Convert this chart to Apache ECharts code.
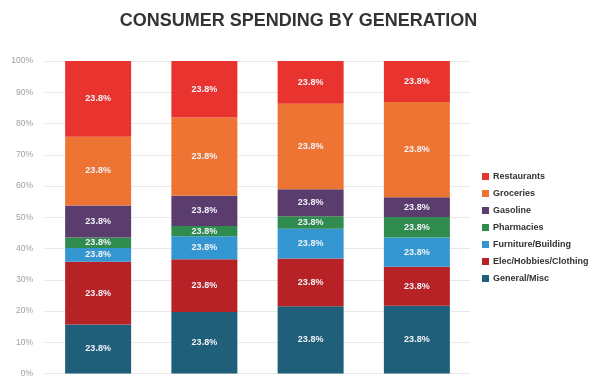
<!DOCTYPE html>
<html>
<head>
<meta charset="utf-8">
<script src="https://cdn.jsdelivr.net/npm/echarts@6/dist/echarts.min.js"></script>
<style>
  html, body { margin: 0; padding: 0; background: #fff; }
  #chart { width: 597px; height: 378px; }
</style>
</head>
<body>
<div id="chart"></div>
<script>
// generations (x labels are cropped off in the reference)
const generations = ['Gen Z', 'Millennials', 'Gen X', 'Boomers']
// stacked bottom -> top
const categories = ['General/Misc', 'Elec/Hobbies/Clothing', 'Furniture/Building', 'Pharmacies', 'Gasoline', 'Groceries', 'Restaurants']
const generalMisc = [15.7, 19.7, 21.5, 21.7]
const elecHobbies = [20.1, 16.9, 15.3, 12.5]
const furniture = [4.4, 7.3, 9.5, 9.3]
const pharmacies = [3.3, 3.3, 4.0, 6.6]
const gasoline = [10.3, 9.7, 8.7, 6.3]
const groceries = [22.0, 25.0, 27.3, 30.5]
const restaurants = [24.2, 18.1, 13.7, 13.1]
const labelText = '23.8%'
const colors = ['#1F5F7A', '#B72227', '#3497D1', '#2F8C4E', '#5A3D6E', '#EE7434', '#E8332F']

const seriesValues = [generalMisc, elecHobbies, furniture, pharmacies, gasoline, groceries, restaurants]

let myChart = echarts.init(document.getElementById('chart'))
myChart.setOption({
    animation: false,
    title: {
        text: 'CONSUMER SPENDING BY GENERATION',
        left: 'center',
        top: 7,
        textStyle: {
            fontFamily: 'Liberation Sans',
            fontSize: 18,
            fontWeight: 'bold',
            color: '#333'
        }
    },
    legend: {
        orient: 'vertical',
        left: 482,
        top: 172,
        padding: 0,
        itemWidth: 7,
        itemHeight: 7,
        itemGap: 8,
        itemStyle: { borderWidth: 0 },
        icon: 'rect',
        data: categories.slice().reverse(),
        textStyle: {
            fontFamily: 'Liberation Sans',
            fontSize: 9,
            fontWeight: 'bold',
            color: '#333',
            padding: [0, 0, 0, -1]
        }
    },
    grid: {
        left: 45,
        right: 127,
        top: 61,
        bottom: 2
    },
    xAxis: {
        type: 'category',
        data: generations,
        axisLine: { show: false },
        axisTick: { show: false },
        axisLabel: { show: false }
    },
    yAxis: {
        type: 'value',
        min: 0,
        max: 100,
        interval: 10,
        axisLine: { show: false },
        axisTick: { show: false },
        axisLabel: {
            formatter: '{value}%',
            fontFamily: 'Liberation Sans',
            fontSize: 8.5,
            color: '#a0a0a0',
            margin: 12
        },
        splitLine: {
            show: true,
            lineStyle: { color: '#e8e8e8' }
        }
    },
    series: categories.map((name, i) => ({
        name: name,
        type: 'bar',
        stack: 'total',
        barWidth: 66,
        itemStyle: { color: colors[i] },
        label: {
            show: true,
            position: 'inside',
            formatter: labelText,
            fontFamily: 'Liberation Sans',
            fontSize: 9,
            fontWeight: 'bold',
            color: '#f2f2f8'
        },
        data: seriesValues[i]
    }))
})
</script>
</body>
</html>
